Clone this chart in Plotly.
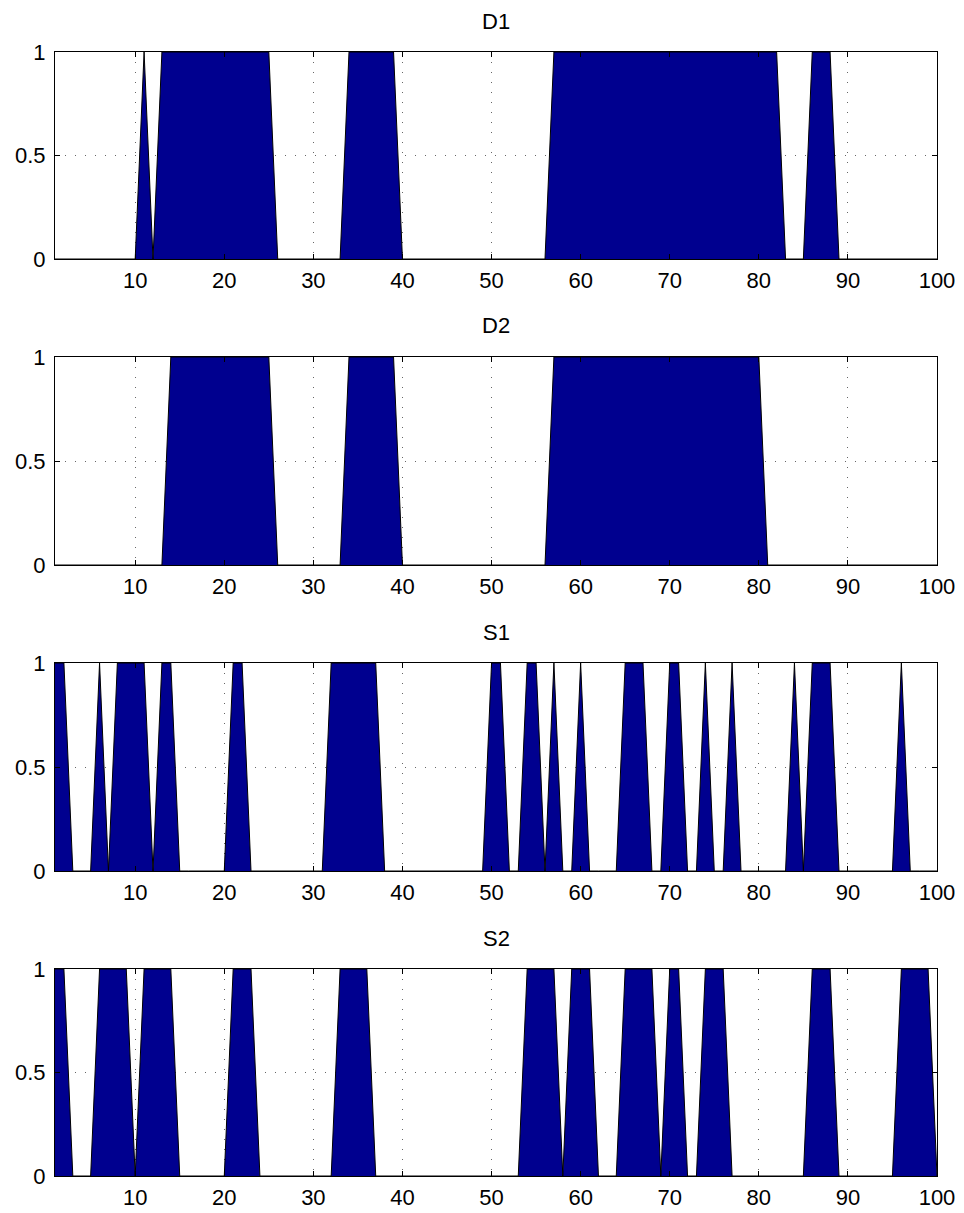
import plotly.graph_objects as go
from plotly.subplots import make_subplots

x = list(range(1, 101))

def seq(ones):
    return [1 if i in ones else 0 for i in x]

# Indices (1..100) where each series equals 1
D1_ones = [11] + list(range(13, 26)) + list(range(34, 40)) + list(range(57, 83)) + list(range(86, 89))
D2_ones = list(range(14, 26)) + list(range(34, 40)) + list(range(57, 81))
S1_ones = [1, 2, 6, 8, 9, 10, 11, 13, 14, 21, 22] + list(range(32, 38)) + \
          [50, 51, 54, 55, 57, 60, 65, 66, 67, 70, 71, 74, 77, 84, 86, 87, 88, 96]
S2_ones = [1, 2, 6, 7, 8, 9, 11, 12, 13, 14, 21, 22, 23, 33, 34, 35, 36,
           54, 55, 56, 57, 59, 60, 61, 65, 66, 67, 68, 70, 71, 74, 75, 76,
           86, 87, 88, 96, 97, 98, 99]

titles = ["D1", "D2", "S1", "S2"]
series = [seq(D1_ones), seq(D2_ones), seq(S1_ones), seq(S2_ones)]
x_ticks = [10, 20, 30, 40, 50, 60, 70, 80, 90, 100]
y_ticks = [0, 0.5, 1]

W, H = 964, 1213
L, R, T, B = 55, 27, 52, 37
ph = H - T - B
tops_px = [52, 357, 663, 969]
bots_px = [259, 565, 871, 1176]

fig = make_subplots(rows=4, cols=1)
font = dict(family="Liberation Sans, Arial, Helvetica, sans-serif", size=22, color="black")
gcol = "#666666"
gdash = "1px,9px"

for i, (t, s) in enumerate(zip(titles, series)):
    r = i + 1
    fig.add_trace(go.Scatter(x=x, y=s, mode="lines", fill="tozeroy",
                             fillcolor="#00008F", line=dict(color="black", width=1),
                             showlegend=False, hoverinfo="skip"), row=r, col=1)
    y0 = 1 - (bots_px[i] - T) / ph
    y1 = 1 - (tops_px[i] - T) / ph
    ax = "yaxis" if r == 1 else f"yaxis{r}"
    xx = "xaxis" if r == 1 else f"xaxis{r}"
    fig.layout[ax].domain = [max(0, y0), min(1, y1)]
    fig.layout[xx].domain = [0, 1]
    fig.update_xaxes(range=[1, 100], tickvals=x_ticks, ticks="inside", ticklen=5,
                     tickcolor="black", showline=True, linecolor="black", linewidth=1,
                     mirror="allticks", showgrid=True, gridcolor=gcol, gridwidth=1,
                     griddash=gdash, zeroline=False, tickfont=font, automargin=False,
                     ticklabelstandoff=2, row=r, col=1)
    fig.update_yaxes(range=[0, 1], tickvals=y_ticks, ticktext=["0", "0.5", "1"],
                     ticks="inside", ticklen=5, tickcolor="black",
                     showline=True, linecolor="black", linewidth=1, mirror="allticks",
                     showgrid=True, gridcolor=gcol, gridwidth=1, griddash=gdash,
                     zeroline=False, tickfont=font, automargin=False,
                     ticklabelstandoff=4, row=r, col=1)
    fig.add_annotation(text=t, x=0.5, y=min(1, y1), xref="paper", yref="paper",
                       xanchor="center", yanchor="middle", yshift=31,
                       showarrow=False, font=font)

fig.update_layout(width=W, height=H, margin=dict(l=L, r=R, t=T, b=B, autoexpand=False),
                  plot_bgcolor="white", paper_bgcolor="white", font=font)
fig.write_html("out.html", config={"displayModeBar": False},
               post_script="document.body.style.margin='0';document.body.style.overflow='hidden';")
